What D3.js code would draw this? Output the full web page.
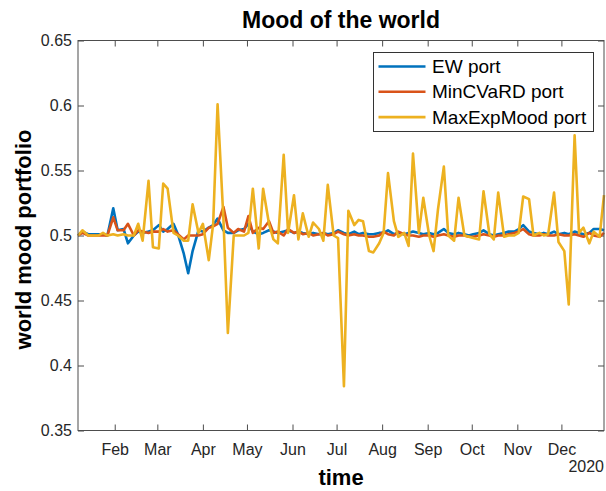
<!DOCTYPE html>
<html>
<head>
<meta charset="utf-8">
<script src="https://d3js.org/d3.v7.min.js"></script>
<style>
   body { margin: 0; background: #ffffff; }
   svg { display: block; font-family: "Liberation Sans", Arial, Helvetica, sans-serif; }
   .tick text { fill: #262626; font-size: 16px; }
   .tick line { stroke: #4d4d4d; }
</style>
</head>
<body>
<figure style="margin:0"></figure>
<script>

// Sample dates (roughly every 3.4 days through 2020).
const dates = [
   "2020-01-07", "2020-01-10", "2020-01-14", "2020-01-17", "2020-01-21", "2020-01-24",
   "2020-01-27", "2020-01-31", "2020-02-03", "2020-02-07", "2020-02-10", "2020-02-14",
   "2020-02-17", "2020-02-20", "2020-02-24", "2020-02-27", "2020-03-02", "2020-03-05",
   "2020-03-08", "2020-03-12", "2020-03-15", "2020-03-19", "2020-03-22", "2020-03-25",
   "2020-03-29", "2020-04-01", "2020-04-05", "2020-04-08", "2020-04-11", "2020-04-15",
   "2020-04-18", "2020-04-22", "2020-04-25", "2020-04-29", "2020-05-02", "2020-05-05",
   "2020-05-09", "2020-05-12", "2020-05-16", "2020-05-19", "2020-05-22", "2020-05-26",
   "2020-05-29", "2020-06-02", "2020-06-05", "2020-06-08", "2020-06-12", "2020-06-15",
   "2020-06-19", "2020-06-22", "2020-06-25", "2020-06-29", "2020-07-02", "2020-07-06",
   "2020-07-09", "2020-07-13", "2020-07-16", "2020-07-19", "2020-07-23", "2020-07-26",
   "2020-07-30", "2020-08-02", "2020-08-05", "2020-08-09", "2020-08-12", "2020-08-16",
   "2020-08-19", "2020-08-22", "2020-08-26", "2020-08-29", "2020-09-02", "2020-09-05",
   "2020-09-08", "2020-09-12", "2020-09-15", "2020-09-19", "2020-09-22", "2020-09-26",
   "2020-09-29", "2020-10-02", "2020-10-06", "2020-10-09", "2020-10-13", "2020-10-16",
   "2020-10-19", "2020-10-23", "2020-10-26", "2020-10-30", "2020-11-02", "2020-11-05",
   "2020-11-09", "2020-11-12", "2020-11-16", "2020-11-19", "2020-11-22", "2020-11-26",
   "2020-11-29", "2020-12-03", "2020-12-06", "2020-12-10", "2020-12-13", "2020-12-16",
   "2020-12-20", "2020-12-23", "2020-12-27", "2020-12-30"
];

const ewPort = [
   0.500, 0.503, 0.501, 0.501, 0.501, 0.501, 0.500, 0.521, 0.504, 0.505,
   0.494, 0.500, 0.503, 0.502, 0.503, 0.504, 0.508, 0.503, 0.505, 0.509,
   0.501, 0.486, 0.471, 0.488, 0.504, 0.503, 0.506, 0.508, 0.513, 0.504,
   0.502, 0.502, 0.504, 0.505, 0.509, 0.503, 0.501, 0.502, 0.504, 0.503,
   0.502, 0.503, 0.504, 0.502, 0.503, 0.502, 0.501, 0.502, 0.501, 0.502,
   0.501, 0.502, 0.504, 0.502, 0.501, 0.503, 0.501, 0.502, 0.501, 0.501,
   0.502, 0.502, 0.504, 0.501, 0.502, 0.501, 0.502, 0.503, 0.502, 0.501,
   0.502, 0.501, 0.502, 0.505, 0.502, 0.501, 0.502, 0.501, 0.500, 0.501,
   0.502, 0.504, 0.501, 0.500, 0.501, 0.502, 0.503, 0.503, 0.505, 0.508,
   0.503, 0.502, 0.501, 0.502, 0.501, 0.503, 0.501, 0.502, 0.501, 0.503,
   0.502, 0.501, 0.502, 0.505, 0.505, 0.504
];

const minCVaRDPort = [
   0.500, 0.502, 0.500, 0.500, 0.500, 0.500, 0.500, 0.514, 0.504, 0.504,
   0.509, 0.500, 0.504, 0.503, 0.502, 0.503, 0.503, 0.505, 0.503, 0.504,
   0.501, 0.497, 0.500, 0.500, 0.500, 0.501, 0.506, 0.507, 0.509, 0.522,
   0.506, 0.502, 0.505, 0.503, 0.515, 0.502, 0.506, 0.505, 0.511, 0.502,
   0.503, 0.500, 0.505, 0.502, 0.503, 0.501, 0.502, 0.500, 0.501, 0.502,
   0.500, 0.501, 0.503, 0.501, 0.500, 0.501, 0.500, 0.500, 0.499, 0.499,
   0.500, 0.503, 0.501, 0.500, 0.503, 0.501, 0.500, 0.500, 0.499, 0.500,
   0.500, 0.499, 0.500, 0.501, 0.500, 0.499, 0.500, 0.500, 0.499, 0.499,
   0.500, 0.501, 0.500, 0.499, 0.500, 0.500, 0.501, 0.502, 0.503, 0.505,
   0.501, 0.500, 0.500, 0.501, 0.500, 0.500, 0.501, 0.500, 0.500, 0.501,
   0.500, 0.499, 0.502, 0.500, 0.499, 0.502
];

const maxExpMoodPort = [
   0.500, 0.504, 0.500, 0.500, 0.500, 0.502, 0.500, 0.501, 0.500, 0.501,
   0.500, 0.500, 0.509, 0.496, 0.542, 0.491, 0.490, 0.540, 0.536, 0.502,
   0.500, 0.496, 0.496, 0.524, 0.502, 0.509, 0.481, 0.509, 0.601, 0.512,
   0.425, 0.500, 0.500, 0.500, 0.502, 0.536, 0.490, 0.536, 0.509, 0.497,
   0.494, 0.562, 0.502, 0.531, 0.497, 0.517, 0.499, 0.510, 0.505, 0.496,
   0.539, 0.500, 0.498, 0.384, 0.519, 0.508, 0.512, 0.511, 0.488, 0.487,
   0.494, 0.502, 0.548, 0.511, 0.499, 0.502, 0.492, 0.563, 0.502, 0.529,
   0.500, 0.488, 0.520, 0.553, 0.500, 0.496, 0.529, 0.500, 0.499, 0.498,
   0.497, 0.534, 0.501, 0.497, 0.533, 0.499, 0.500, 0.500, 0.502, 0.530,
   0.528, 0.500, 0.502, 0.500, 0.501, 0.533, 0.495, 0.488, 0.447, 0.577,
   0.502, 0.506, 0.494, 0.503, 0.499, 0.531
];

const yTicks = [0.35, 0.4, 0.45, 0.5, 0.55, 0.6, 0.65];
const seriesNames = ["EW port", "MinCVaRD port", "MaxExpMood port"];
const seriesColors = ["#0072BD", "#D95319", "#EDB120"];


drawChart();


function drawChart() {
   let width = 606, height = 491;
   let margin = {top: 40.5, right: 2, bottom: 60.5, left: 78};
   let innerW = width - margin.left - margin.right;
   let innerH = height - margin.top - margin.bottom;

   let parse = d3.timeParse("%Y-%m-%d");
   let days = dates.map(parse);

   let svg = d3.select("figure")
      .append("svg")
      .attr("width", width)
      .attr("height", height);

   let g = svg.append("g")
      .attr("transform", "translate(" + margin.left + "," + margin.top + ")");

   let x = d3.scaleTime()
      .domain([days[0], days[days.length - 1]])
      .range([0, innerW]);
   let y = d3.scaleLinear()
      .domain([0.35, 0.65])
      .range([innerH, 0]);

   let months = d3.timeMonth.range(d3.timeMonth.ceil(days[0]), days[days.length - 1]);

   // Ticks point inward on all four sides, like a boxed MATLAB axis.
   g.append("g")
      .attr("transform", "translate(0," + innerH + ")")
      .call(d3.axisBottom(x).tickValues(months).tickFormat(d3.timeFormat("%b"))
         .tickSizeInner(-6).tickSizeOuter(0).tickPadding(13));
   g.append("g")
      .call(d3.axisTop(x).tickValues(months).tickFormat("")
         .tickSizeInner(-6).tickSizeOuter(0));
   g.append("g")
      .call(d3.axisLeft(y).tickValues(yTicks).tickFormat(d3.format("~g"))
         .tickSizeInner(-6).tickSizeOuter(0).tickPadding(6));
   g.append("g")
      .attr("transform", "translate(" + innerW + ",0)")
      .call(d3.axisRight(y).tickValues(yTicks).tickFormat("")
         .tickSizeInner(-6).tickSizeOuter(0));
   g.selectAll(".domain").remove();

   // Draw the three portfolio lines, yellow last so it sits on top.
   let allSeries = [ewPort, minCVaRDPort, maxExpMoodPort];
   let line = d3.line()
      .x(function(d, i) { return x(days[i]); })
      .y(function(d) { return y(d); });

   allSeries.forEach(function(values, k) {
      g.append("path")
         .datum(values)
         .attr("d", line)
         .attr("fill", "none")
         .attr("stroke", seriesColors[k])
         .attr("stroke-width", 2.6)
         .attr("stroke-linejoin", "round");
   });

   // Axes box
   g.append("rect")
      .attr("width", innerW)
      .attr("height", innerH)
      .attr("fill", "none")
      .attr("stroke", "#4d4d4d")
      .attr("stroke-width", 1);

   // Legend
   let legend = svg.append("g")
      .attr("transform", "translate(373.5,52.5)");
   legend.append("rect")
      .attr("width", 220)
      .attr("height", 79)
      .attr("fill", "#ffffff")
      .attr("stroke", "#333333")
      .attr("stroke-width", 1);
   seriesNames.forEach(function(name, k) {
      let rowY = 14 + k * 25.3;
      legend.append("line")
         .attr("x1", 5).attr("x2", 52)
         .attr("y1", rowY).attr("y2", rowY)
         .attr("stroke", seriesColors[k])
         .attr("stroke-width", 2.6);
      legend.append("text")
         .attr("x", 58.5)
         .attr("y", rowY)
         .attr("dy", "0.35em")
         .style("font-size", "19px")
         .style("fill", "#000000")
         .text(name);
   });

   // Title, axis labels and year marker
   svg.append("text")
      .attr("x", margin.left + innerW / 2)
      .attr("y", 28)
      .attr("text-anchor", "middle")
      .style("font-size", "23px")
      .style("font-weight", "bold")
      .text("Mood of the world");

   svg.append("text")
      .attr("x", margin.left + innerW / 2)
      .attr("y", 485)
      .attr("text-anchor", "middle")
      .style("font-size", "22px")
      .style("font-weight", "bold")
      .text("time");

   svg.append("text")
      .attr("transform", "translate(31," + (margin.top + innerH / 2 + 4) + ") rotate(-90)")
      .attr("text-anchor", "middle")
      .style("font-size", "22px")
      .style("font-weight", "bold")
      .text("world mood portfolio");

   svg.append("text")
      .attr("x", 604)
      .attr("y", 472)
      .attr("text-anchor", "end")
      .style("font-size", "16px")
      .style("fill", "#262626")
      .text("2020");
}

</script>
</body>
</html>
